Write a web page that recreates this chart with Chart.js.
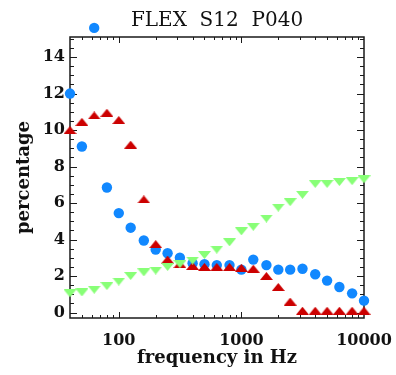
<!DOCTYPE html>
<html>
<head>
<meta charset="utf-8">
<script src="https://cdn.jsdelivr.net/npm/chart.js@4.4.0/dist/chart.umd.min.js"></script>
<style>
  html, body { margin: 0; padding: 0; background: #fff; }
</style>
</head>
<body>
<canvas id="flexChart" width="396" height="375"></canvas>
<script>
// third-octave band centres (Hz)
const freqs = [40, 50, 63, 80, 100, 125, 160, 200, 250, 315, 400, 500, 630, 800,
    1000, 1250, 1600, 2000, 2500, 3150, 4000, 5000, 6300, 8000, 10000];

const blueVals = [12.0, 9.1, 15.6, 6.85, 5.45, 4.65, 3.95, 3.45, 3.25, 3.0, 2.7, 2.65, 2.6, 2.6,
    2.35, 2.9, 2.6, 2.35, 2.35, 2.4, 2.1, 1.75, 1.4, 1.05, 0.65];

const redVals = [10.0, 10.45, 10.8, 10.95, 10.55, 9.2, 6.2, 3.75, 2.9, 2.65, 2.55, 2.5, 2.5, 2.5,
    2.45, 2.4, 2.0, 1.4, 0.6, 0.1, 0.1, 0.1, 0.1, 0.1, 0.1];

const greenVals = [1.05, 1.1, 1.25, 1.45, 1.7, 2.0, 2.2, 2.3, 2.5, 2.65, 2.85, 3.15, 3.45, 3.85,
    4.45, 4.7, 5.15, 5.75, 6.05, 6.45, 7.05, 7.05, 7.15, 7.2, 7.3];

const yTicks = [0, 2, 4, 6, 8, 10, 12, 14];
const xTicks = [100, 1000, 10000];
const titleText = 'FLEX  S12  P040';

const serif = 'DejaVu Serif';

function pts(vals) {
    return freqs.map((f, i) => ({x: f, y: vals[i]}));
}

// small flat triangles like the IDL usersym
function triangle(color, up) {
    const c = document.createElement('canvas');
    c.width = 13;
    c.height = 8;
    const g = c.getContext('2d');
    g.fillStyle = color;
    g.beginPath();
    if (up) {
        g.moveTo(6.5, 0); g.lineTo(13, 8); g.lineTo(0, 8);
    } else {
        g.moveTo(0, 0); g.lineTo(13, 0); g.lineTo(6.5, 8);
    }
    g.closePath();
    g.fill();
    return c;
}

const frame = {
    id: 'frame',
    beforeDatasetsDraw(chart) {
        const {ctx, chartArea: a, scales: {x, y}} = chart;
        ctx.save();
        ctx.strokeStyle = '#1a1a1a';
        ctx.lineWidth = 1;
        ctx.beginPath();
        for (let v = 0; v <= 15; v += 0.5) {
            const py = Math.round(y.getPixelForValue(v)) + 0.5;
            if (py < a.top + 1 || py > a.bottom - 1) continue;
            const len = v % 2 === 0 ? 7 : 4;
            ctx.moveTo(a.left, py); ctx.lineTo(a.left + len, py);
            ctx.moveTo(a.right, py); ctx.lineTo(a.right - len, py);
        }
        for (let d = 10; d <= 10000; d *= 10) {
            for (let m = 1; m < 10; m++) {
                const v = d * m;
                if (v <= 40 || v >= 10000) continue;
                const px = Math.round(x.getPixelForValue(v)) + 0.5;
                const len = m === 1 ? 6 : 3;
                ctx.moveTo(px, a.bottom); ctx.lineTo(px, a.bottom - len);
                ctx.moveTo(px, a.top); ctx.lineTo(px, a.top + len);
            }
        }
        ctx.stroke();
        ctx.lineWidth = 1.5;
        ctx.strokeRect(a.left, a.top, a.right - a.left, a.bottom - a.top);
        ctx.restore();
    },
    afterDatasetsDraw(chart) {
        // IDL does not clip symbols, so redraw the ones above the frame
        const full = {left: 0, top: 0, right: chart.width, bottom: chart.height};
        chart.getSortedVisibleDatasetMetas().forEach(meta => {
            meta.data.forEach(el => {
                if (el.y < chart.chartArea.top) el.draw(chart.ctx, full);
            });
        });
    },
    afterDraw(chart) {
        const {ctx, chartArea: a} = chart;
        ctx.save();
        ctx.fillStyle = '#111';
        ctx.font = '20px "' + serif + '"';
        ctx.textAlign = 'center';
        ctx.textBaseline = 'alphabetic';
        ctx.fillText(titleText, (a.left + a.right) / 2, 26);
        ctx.restore();
    }
};

const tickFont = {family: serif, size: 16, weight: 'bold'};
const titleFont = {family: serif, size: 18, weight: 'bold'};

const config = {
    type: 'scatter',
    data: {
        datasets: [{
            data: pts(greenVals),
            pointStyle: triangle('#88ff77', false),
            pointRadius: 6,
            clip: false,
            order: 1,
        }, {
            data: pts(redVals),
            pointStyle: triangle('#cc0000', true),
            pointRadius: 6,
            clip: false,
            order: 2,
        }, {
            data: pts(blueVals),
            backgroundColor: '#1188ff',
            borderWidth: 0,
            pointRadius: 5.2,
            clip: false,
            order: 3,
        }]
    },
    options: {
        responsive: false,
        animation: false,
        layout: {padding: {top: 37, right: 32, left: 0, bottom: 0}},
        plugins: {legend: {display: false}, tooltip: {enabled: false}},
        scales: {
            x: {
                type: 'logarithmic',
                min: 40,
                max: 10000,
                afterBuildTicks: s => { s.ticks = xTicks.map(v => ({value: v})); },
                afterFit: s => { s.height = 57; s.paddingLeft = 0; s.paddingRight = 0; },
                grid: {display: false, drawTicks: false},
                border: {display: false},
                ticks: {padding: 13, color: '#111', font: tickFont, maxRotation: 0, autoSkip: false,
                    callback: v => String(v)},
                title: {display: true, text: 'frequency in Hz', color: '#111', font: titleFont,
                    padding: {top: 0, bottom: 6}}
            },
            y: {
                min: -0.3,
                max: 15.1,
                afterBuildTicks: s => { s.ticks = yTicks.map(v => ({value: v})); },
                afterFit: s => { s.width = 70; s.paddingTop = 0; s.paddingBottom = 0; },
                grid: {display: false, drawTicks: false},
                border: {display: false},
                ticks: {padding: 5, color: '#111', font: tickFont},
                title: {display: true, text: 'percentage', color: '#111', font: titleFont,
                    padding: {top: 14, bottom: 0}}
            }
        }
    },
    plugins: [frame]
};

const flexChart = new Chart(document.getElementById('flexChart'), config);
</script>
</body>
</html>
